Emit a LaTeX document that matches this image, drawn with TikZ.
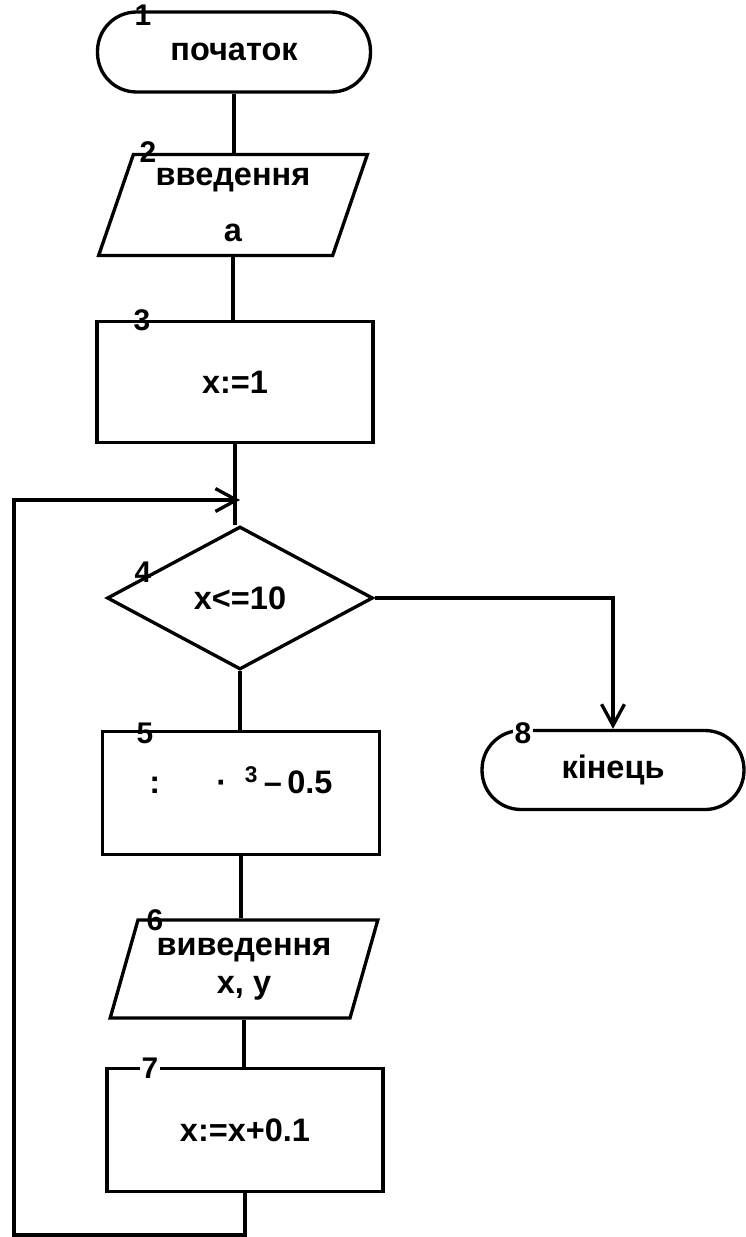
\documentclass[tikz,border=0pt]{standalone}
\usepackage{fontspec}
\setmainfont{Liberation Sans}
\usepackage{tikz}
\usetikzlibrary{shapes, arrows.meta, positioning}
\tikzset{
    term/.style={rectangle, draw, rounded corners=0.78cm, align=center},
    io/.style={trapezium, draw, trapezium left angle=70, trapezium right angle=110, trapezium stretches=true, align=center, inner sep=0pt},
    proc/.style={rectangle, draw, align=center},
    cond/.style={diamond, draw, aspect=1.86, inner sep=0pt, align=center},
    num/.style={inner sep=1pt, font=\bfseries\fontsize{17}{17}\selectfont},
    arrow/.style={-{Straight Barb[length=12pt, width=13pt]}}
}

\begin{document}
\begin{tikzpicture}[x=0.02cm, y=-0.02cm, line width=1.9pt, font=\bfseries\fontsize{18.5}{22}\selectfont]
        \useasboundingbox (0, 0) rectangle (745, 1237);

        \node[term, minimum width=5.46cm, minimum height=1.6cm] (start) at (234, 52) {початок};
        \node[io, minimum width=5.38cm, minimum height=2.02cm] (input) at (233, 205) {введення\\[10pt] a};
        \node[proc, minimum width=5.52cm, minimum height=2.42cm] (init) at (235, 382) {x:=1};
        \node[cond, minimum width=5.32cm, minimum height=2.86cm] (check) at (240, 598) {x<=10};
        \node[proc, minimum width=5.54cm, minimum height=2.46cm, text depth=0.5cm] (calc) at (241, 793)
            {:\hspace{32pt}·\hspace{10pt}\textsuperscript{3}\,–\,0.5};
        \node[io, minimum width=5.36cm, minimum height=1.96cm] (output) at (244, 969) {виведення\\ x, y};
        \node[proc, minimum width=5.52cm, minimum height=2.46cm] (incr) at (245, 1130) {x:=x+0.1};
        \node[term, minimum width=5.24cm, minimum height=1.58cm] (stop) at (613, 770) {кінець};

        % loop return point
        \coordinate (join) at (240, 500);
        \coordinate (back) at (14, 1235);

        \draw (start.south) -- (start.south |- input.north);
        \draw (input.south) -- (input.south |- init.north);
        \draw (init.south) -- (init.south |- check.north);
        \draw (check.south) -- (check.south |- calc.north);
        \draw (calc.south) -- (calc.south |- output.north);
        \draw (output.south) -- (output.south |- incr.north);
        \draw[arrow] (check.east) -| (stop.north);
        \draw[arrow] (incr.south) |- (back) |- (join);

        % block numbers
        \node[num] (n1) at (143, 15) {1};
        \node[num] (n2) at (148, 152) {2};
        \node[num] (n3) at (142, 320) {3};
        \node[num] (n4) at (143, 572) {4};
        \node[num] (n5) at (145, 733) {5};
        \node[num] (n6) at (155, 920) {6};
        \node[num, fill=white] (n7) at (150, 1068) {7};
        \node[num, fill=white] (n8) at (523, 733) {8};
    \end{tikzpicture}
\end{document}
